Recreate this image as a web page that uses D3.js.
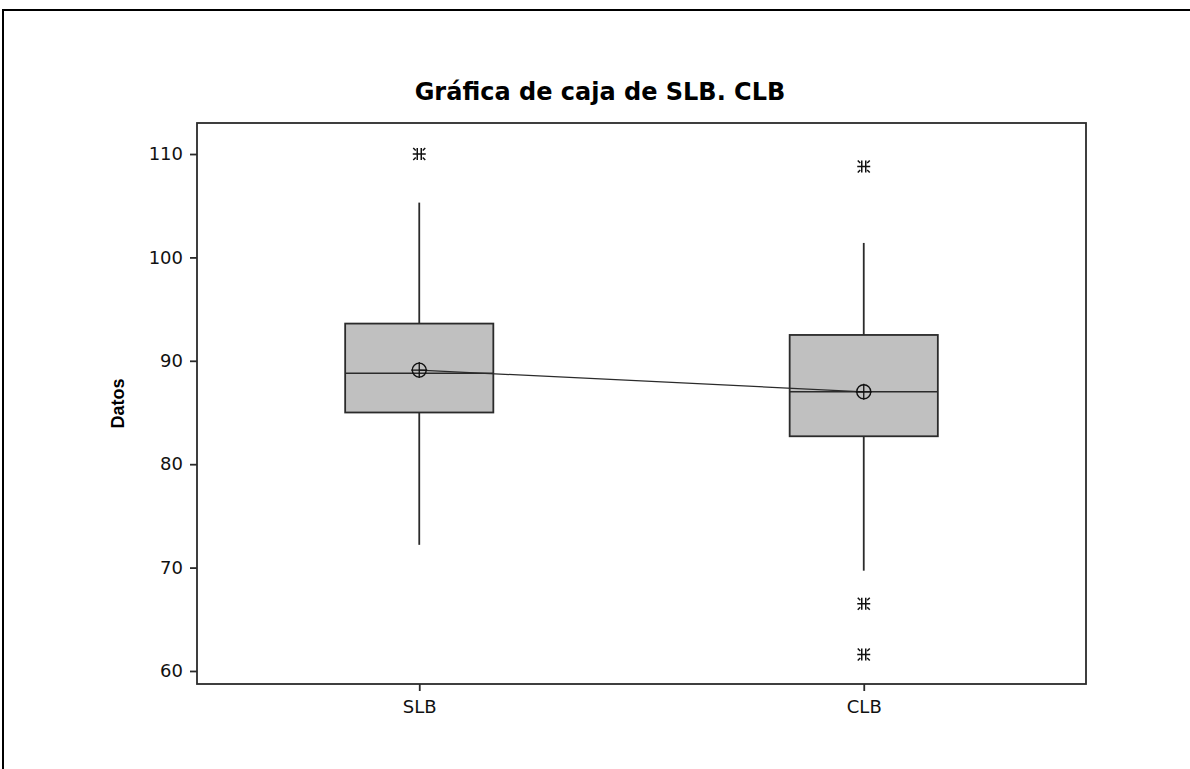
<!DOCTYPE html>
<html>
<head>
<meta charset="utf-8">
<title>Gráfica de caja de SLB. CLB</title>
<script src="https://d3js.org/d3.v7.min.js"></script>
<style>
  body { margin: 0; background: #fff; }
  svg { display: block; }
</style>
</head>
<body>
<div class="page"></div>
<script>
// values
var groups    = ["SLB", "CLB"];
var q1        = [85.0, 82.7];
var medians   = [88.8, 87.0];
var q3        = [93.6, 92.5];
var whiskLow  = [72.2, 69.7];
var whiskHigh = [105.3, 101.4];
var means     = [89.1, 87.0];
var outliers  = [[110.0], [108.8, 66.5, 61.6]];
var yTicks    = [60, 70, 80, 90, 100, 110];

var width = 1190, height = 769;
var plotL = 197, plotR = 1086, plotT = 123, plotB = 684;

var svg = d3.select(".page")
  .append("svg")
  .attr("width", width)
  .attr("height", height);

// page frame
svg.append("rect")
  .attr("x", 3).attr("y", 10)
  .attr("width", 1300).attr("height", 900)
  .attr("fill", "none")
  .attr("stroke", "#000")
  .attr("stroke-width", 2);

var x = d3.scalePoint()
  .domain(groups)
  .range([plotL, plotR])
  .padding(0.5);

var y = d3.scaleLinear()
  .domain([58.74, 113.0])
  .range([plotB, plotT]);

var boxW = x.step() / 3;
var ink = "#2b2b2b";

// title
svg.append("text")
  .attr("x", 600).attr("y", 100)
  .attr("text-anchor", "middle")
  .style("font-family", "DejaVu Sans")
  .style("font-weight", "bold")
  .style("font-size", "24px")
  .text("Gráfica de caja de SLB. CLB");

// axes
var yAxis = svg.append("g")
  .attr("transform", "translate(" + plotL + ",0)")
  .call(d3.axisLeft(y).tickValues(yTicks).tickSize(7).tickPadding(7));

var xAxis = svg.append("g")
  .attr("transform", "translate(0," + plotB + ")")
  .call(d3.axisBottom(x).tickSize(7).tickPadding(9));

[yAxis, xAxis].forEach(function(a) {
  a.select(".domain").remove();
  a.selectAll("line").attr("stroke", ink).attr("stroke-width", 1.8);
  a.selectAll("text")
    .attr("fill", "#111")
    .style("font-family", "DejaVu Sans")
    .style("font-size", "18px");
});

svg.append("text")
  .attr("transform", "translate(124," + ((plotT + plotB) / 2) + ") rotate(-90)")
  .attr("text-anchor", "middle")
  .style("font-family", "Liberation Sans")
  .style("font-weight", "bold")
  .style("font-size", "18px")
  .text("Datos");

// plot frame
svg.append("rect")
  .attr("x", plotL).attr("y", plotT)
  .attr("width", plotR - plotL).attr("height", plotB - plotT)
  .attr("fill", "none")
  .attr("stroke", ink)
  .attr("stroke-width", 1.8);

var data = groups.map(function(g, i) {
  return { g: g, q1: q1[i], med: medians[i], q3: q3[i],
           lo: whiskLow[i], hi: whiskHigh[i], mean: means[i], out: outliers[i] };
});

var box = svg.selectAll(".box")
  .data(data)
  .enter().append("g")
  .attr("class", "box");

// whiskers
box.append("line")
  .attr("x1", function(d) { return x(d.g); })
  .attr("x2", function(d) { return x(d.g); })
  .attr("y1", function(d) { return y(d.hi); })
  .attr("y2", function(d) { return y(d.q3); })
  .attr("stroke", ink).attr("stroke-width", 1.8);

box.append("line")
  .attr("x1", function(d) { return x(d.g); })
  .attr("x2", function(d) { return x(d.g); })
  .attr("y1", function(d) { return y(d.q1); })
  .attr("y2", function(d) { return y(d.lo); })
  .attr("stroke", ink).attr("stroke-width", 1.8);

box.append("rect")
  .attr("x", function(d) { return x(d.g) - boxW / 2; })
  .attr("y", function(d) { return y(d.q3); })
  .attr("width", boxW)
  .attr("height", function(d) { return y(d.q1) - y(d.q3); })
  .attr("fill", "#c0c0c0")
  .attr("stroke", ink)
  .attr("stroke-width", 1.8);

box.append("line")
  .attr("x1", function(d) { return x(d.g) - boxW / 2; })
  .attr("x2", function(d) { return x(d.g) + boxW / 2; })
  .attr("y1", function(d) { return y(d.med); })
  .attr("y2", function(d) { return y(d.med); })
  .attr("stroke", ink).attr("stroke-width", 1.6);

// line joining the means
svg.append("path")
  .datum(data)
  .attr("fill", "none")
  .attr("stroke", ink)
  .attr("stroke-width", 1.2)
  .attr("d", d3.line()
    .x(function(d) { return x(d.g); })
    .y(function(d) { return y(d.mean); }));

// mean symbol: circle with cross
var m = svg.selectAll(".mean")
  .data(data)
  .enter().append("g")
  .attr("class", "mean")
  .attr("transform", function(d) { return "translate(" + x(d.g) + "," + y(d.mean) + ")"; });

m.append("circle")
  .attr("r", 7)
  .attr("fill", "none")
  .attr("stroke", "#111")
  .attr("stroke-width", 1.4);

m.append("path")
  .attr("d", "M-8,0H8M0,-8V8")
  .attr("stroke", "#111")
  .attr("stroke-width", 1.3);

// outliers: asterisk-like marks
var outs = [];
data.forEach(function(d) {
  d.out.forEach(function(v) { outs.push({ g: d.g, v: v }); });
});

svg.selectAll(".out")
  .data(outs)
  .enter().append("path")
  .attr("class", "out")
  .attr("transform", function(d) { return "translate(" + x(d.g) + "," + y(d.v) + ")"; })
  .attr("d", "M-6.5,0H6.5M-2,-6V6M2,-6V6M-6,-6L-3.5,-3.5M6,-6L3.5,-3.5M-6,6L-3.5,3.5M6,6L3.5,3.5")
  .attr("fill", "none")
  .attr("stroke", "#111")
  .attr("stroke-width", 1.5);
</script>
</body>
</html>
